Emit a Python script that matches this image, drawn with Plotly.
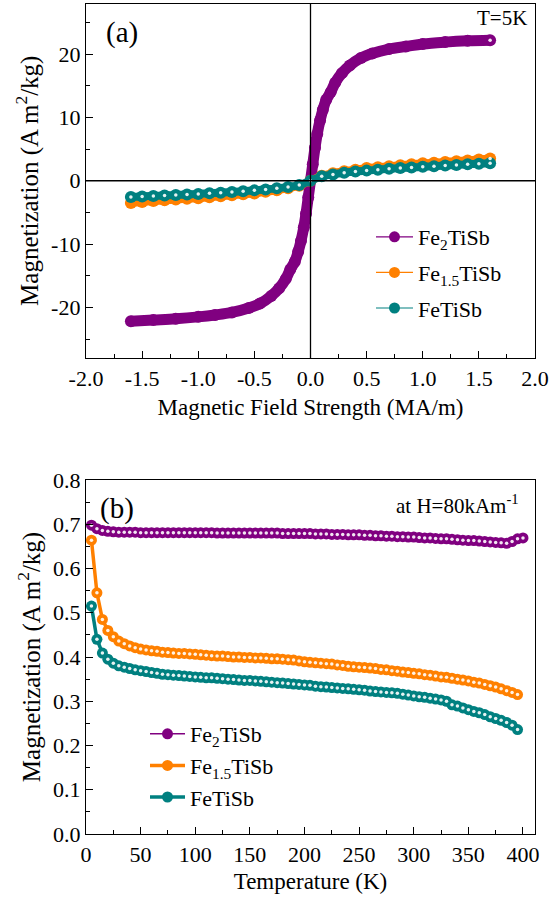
import plotly.graph_objects as go

# ---------------- Panel (a): M(H) at T = 5 K ----------------
H_fe2 = [-1.6, -1.4, -1.2, -1.0, -0.85, -0.7, -0.55, -0.45, -0.35, -0.28, -0.22, -0.18,
         -0.14, -0.11, -0.085, -0.06, -0.04, -0.02, 0.0, 0.02, 0.04, 0.06, 0.085, 0.11,
         0.14, 0.18, 0.22, 0.28, 0.35, 0.45, 0.55, 0.7, 0.85, 1.0, 1.2, 1.4, 1.6]
M_fe2 = [-22.2, -22.0, -21.8, -21.5, -21.2, -20.8, -20.1, -19.4, -18.2, -17.0, -15.5, -14.0,
         -12.8, -11.2, -9.5, -7.4, -5.2, -2.6, 0.0, 2.6, 5.2, 7.4, 9.5, 11.2,
         12.8, 14.0, 15.5, 17.0, 18.2, 19.4, 20.1, 20.8, 21.2, 21.6, 21.9, 22.1, 22.2]

H_fe = [-1.6, -1.5, -1.4, -1.3, -1.2, -1.1, -1.0, -0.9, -0.8, -0.7, -0.6, -0.5, -0.4,
        -0.3, -0.2, -0.1, 0.0, 0.1, 0.2, 0.3, 0.4, 0.5, 0.6, 0.7, 0.8, 0.9, 1.0, 1.1,
        1.2, 1.3, 1.4, 1.5, 1.6]
M_fe15 = [-3.5, -3.35, -3.2, -3.1, -2.95, -2.85, -2.75, -2.6, -2.45, -2.3, -2.15, -2.0, -1.75,
          -1.5, -1.2, -0.8, 0.0, 0.8, 1.2, 1.5, 1.75, 2.0, 2.15, 2.3, 2.45, 2.6, 2.75, 2.85,
          2.95, 3.1, 3.2, 3.35, 3.5]
M_fe1 = [-2.55, -2.48, -2.4, -2.32, -2.24, -2.16, -2.08, -1.98, -1.88, -1.77, -1.65, -1.52, -1.38,
         -1.2, -0.97, -0.68, 0.0, 0.7, 1.0, 1.25, 1.45, 1.6, 1.75, 1.88, 2.0, 2.1, 2.2, 2.3,
         2.4, 2.5, 2.6, 2.68, 2.75]

# ---------------- Panel (b): M(T) at H = 80 kA/m ----------------
T_list = [5, 10, 15, 20, 25, 30, 35, 40, 45, 50, 55, 60, 65, 70, 75, 80, 85, 90, 95, 100,
          105, 110, 115, 120, 125, 130, 135, 140, 145, 150, 155, 160, 165, 170, 175, 180, 185, 190, 195, 200,
          205, 210, 215, 220, 225, 230, 235, 240, 245, 250, 255, 260, 265, 270, 275, 280, 285, 290, 295, 300,
          305, 310, 315, 320, 325, 330, 335, 340, 345, 350, 355, 360, 365, 370, 375, 380, 385, 390, 395]
T_fe2 = T_list + [400]

MT_fe2 = [0.698, 0.690, 0.686, 0.684, 0.683, 0.682, 0.682, 0.682, 0.682, 0.681, 0.681, 0.681, 0.681, 0.681, 0.681, 0.681, 0.681, 0.681, 0.681, 0.681,
          0.681, 0.681, 0.681, 0.680, 0.680, 0.680, 0.680, 0.680, 0.680, 0.680, 0.680, 0.680, 0.680, 0.680, 0.680, 0.679, 0.679, 0.679, 0.679, 0.679,
          0.679, 0.678, 0.678, 0.678, 0.677, 0.677, 0.677, 0.676, 0.676, 0.676, 0.675, 0.675, 0.674, 0.674, 0.673, 0.673, 0.672, 0.672, 0.671, 0.671,
          0.670, 0.669, 0.669, 0.668, 0.667, 0.667, 0.666, 0.665, 0.664, 0.663, 0.663, 0.662, 0.661, 0.660, 0.659, 0.658, 0.657, 0.661, 0.667, 0.669]

MT_fe15 = [0.664, 0.545, 0.485, 0.460, 0.446, 0.436, 0.430, 0.425, 0.421, 0.418, 0.416, 0.414, 0.413, 0.411, 0.410, 0.409, 0.408, 0.408, 0.407, 0.406,
           0.405, 0.404, 0.403, 0.402, 0.402, 0.401, 0.400, 0.400, 0.399, 0.399, 0.398, 0.398, 0.397, 0.396, 0.396, 0.395, 0.394, 0.393, 0.391, 0.389,
           0.388, 0.387, 0.386, 0.385, 0.384, 0.382, 0.381, 0.379, 0.378, 0.377, 0.376, 0.375, 0.374, 0.372, 0.371, 0.369, 0.368, 0.366, 0.365, 0.363,
           0.362, 0.360, 0.359, 0.357, 0.355, 0.354, 0.352, 0.350, 0.348, 0.346, 0.343, 0.341, 0.338, 0.335, 0.332, 0.328, 0.324, 0.320, 0.315]

MT_fe1 = [0.515, 0.440, 0.409, 0.395, 0.386, 0.380, 0.377, 0.374, 0.371, 0.369, 0.367, 0.365, 0.363, 0.361, 0.360, 0.359, 0.358, 0.357, 0.356, 0.355,
          0.354, 0.353, 0.353, 0.352, 0.351, 0.350, 0.349, 0.348, 0.347, 0.347, 0.346, 0.345, 0.344, 0.343, 0.342, 0.341, 0.340, 0.339, 0.338, 0.337,
          0.336, 0.334, 0.333, 0.332, 0.331, 0.330, 0.329, 0.328, 0.327, 0.326, 0.325, 0.323, 0.322, 0.321, 0.320, 0.319, 0.318, 0.316, 0.314, 0.312,
          0.310, 0.309, 0.307, 0.305, 0.303, 0.300, 0.292, 0.289, 0.285, 0.281, 0.277, 0.274, 0.270, 0.265, 0.261, 0.257, 0.252, 0.246, 0.236]

names = ["Fe<sub>2</sub>TiSb", "Fe<sub>1.5</sub>TiSb", "FeTiSb"]
colors = ["#800080", "#FF8000", "#008080"]

xa_vals = [-2.0, -1.5, -1.0, -0.5, 0.0, 0.5, 1.0, 1.5, 2.0]
xa_text = ["-2.0", "-1.5", "-1.0", "-0.5", "0.0", "0.5", "1.0", "1.5", "2.0"]
ya_vals = [-20, -10, 0, 10, 20]
ya_text = ["-20", "-10", "0", "10", "20"]

FONT = "Liberation Serif"
FS_TICK = 22
FS_TITLE = 23
FS_YTITLE = 25
FS_LEG = 22

fig = go.Figure()

# panel (a) data bands
top_series = [(H_fe2, M_fe2), (H_fe, M_fe15), (H_fe, M_fe1)]
for (hx, my), c, w in zip(top_series, colors, [11, 8, 8]):
    fig.add_trace(go.Scatter(x=hx, y=my, mode="lines+markers",
                             line=dict(color=c, width=w, shape="spline"),
                             marker=dict(size=12, color=c, line=dict(width=0)),
                             showlegend=False, hoverinfo="skip", xaxis="x", yaxis="y"))
# highlights
fig.add_trace(go.Scatter(x=H_fe, y=M_fe1, mode="markers",
                         marker=dict(size=3.5, color="white", line=dict(width=0)), opacity=0.9,
                         showlegend=False, hoverinfo="skip", xaxis="x", yaxis="y"))
fig.add_trace(go.Scatter(x=[H_fe2[-1], H_fe[-1]], y=[M_fe2[-1], M_fe15[-1]], mode="markers",
                         marker=dict(size=3.5, color="white", line=dict(width=0)), opacity=0.9,
                         showlegend=False, hoverinfo="skip", xaxis="x", yaxis="y"))
# legend (a) entries
for n, c in zip(names, colors):
    fig.add_trace(go.Scatter(x=[None], y=[None], mode="lines+markers", name=n,
                             line=dict(color=c, width=1.2),
                             marker=dict(size=11, color=c, line=dict(width=0)),
                             legend="legend", legendgroup=n, xaxis="x", yaxis="y"))

# panel (b)
bot_series = [(T_fe2, MT_fe2), (T_list, MT_fe15), (T_list, MT_fe1)]
for (tx, my), n, c, w in zip(bot_series, names, colors, [1.5, 3.5, 3.5]):
    fig.add_trace(go.Scatter(x=tx, y=my, mode="lines+markers", name=n,
                             line=dict(color=c, width=w),
                             marker=dict(size=11, color=c, line=dict(width=0)),
                             legend="legend2", legendgroup=n + "b", hoverinfo="skip",
                             xaxis="x2", yaxis="y2"))
    fig.add_trace(go.Scatter(x=tx, y=my, mode="markers",
                             marker=dict(size=3.5, color="white", line=dict(width=0)), opacity=0.9,
                             showlegend=False, hoverinfo="skip", xaxis="x2", yaxis="y2"))

axis_common = dict(showline=True, linecolor="black", linewidth=1.3, mirror=True,
                   ticks="inside", ticklen=7, tickwidth=1.2, tickcolor="black",
                   showgrid=False, zeroline=False, automargin=False,
                   tickfont=dict(family=FONT, size=FS_TICK, color="black"))

xdom = [86 / 552, 535 / 552]
fig.update_layout(
    width=552, height=902,
    margin=dict(l=0, r=0, t=0, b=0, autoexpand=False),
    paper_bgcolor="white", plot_bgcolor="white",
    font=dict(family=FONT, size=FS_TICK, color="black"),
    xaxis=dict(axis_common, domain=xdom, range=[-2.0, 2.0], tickmode="array",
               tickvals=xa_vals, ticktext=xa_text,
               minor=dict(tickmode="linear", tick0=0, dtick=0.25, ticks="inside", ticklen=4, tickcolor="black"),
               title=dict(text="Magnetic Field Strength (MA/m)", font=dict(family=FONT, size=FS_TITLE), standoff=9),
               anchor="y"),
    yaxis=dict(axis_common, domain=[(902 - 358) / 902, (902 - 3.5) / 902], range=[-28, 28],
               tickmode="array", tickvals=ya_vals, ticktext=ya_text,
               minor=dict(tickmode="linear", tick0=0, dtick=5, ticks="inside", ticklen=4, tickcolor="black"),
               title=dict(text="Magnetization (A m<sup>2</sup>/kg)", font=dict(family=FONT, size=FS_YTITLE), standoff=5),
               anchor="x"),
    xaxis2=dict(axis_common, domain=xdom, range=[0, 411], tickmode="linear", tick0=0, dtick=50,
                minor=dict(tickmode="linear", tick0=0, dtick=25, ticks="inside", ticklen=4, tickcolor="black"),
                title=dict(text="Temperature (K)", font=dict(family=FONT, size=FS_TITLE), standoff=7),
                anchor="y2"),
    yaxis2=dict(axis_common, domain=[(902 - 834) / 902, (902 - 480) / 902], range=[0, 0.8],
                tickmode="linear", tick0=0, dtick=0.1, tickformat=".1f",
                minor=dict(tickmode="linear", tick0=0, dtick=0.05, ticks="inside", ticklen=4, tickcolor="black"),
                title=dict(text="Magnetization (A m<sup>2</sup>/kg)", font=dict(family=FONT, size=FS_YTITLE), standoff=5),
                anchor="x2"),
    legend=dict(x=371 / 552, y=(902 - 216) / 902, xanchor="left", yanchor="top",
                bgcolor="rgba(0,0,0,0)", font=dict(family=FONT, size=FS_LEG), tracegroupgap=4,
                traceorder="grouped", itemwidth=37),
    legend2=dict(x=145 / 552, y=(902 - 713) / 902, xanchor="left", yanchor="top",
                 bgcolor="rgba(0,0,0,0)", font=dict(family=FONT, size=FS_LEG), tracegroupgap=0,
                 traceorder="grouped", itemwidth=35),
    showlegend=True,
)

# crosshair lines through origin of panel (a), drawn above data
fig.add_shape(type="line", xref="x", yref="y domain", x0=0, x1=0, y0=0, y1=1,
              line=dict(color="black", width=1.3), layer="above")
fig.add_shape(type="line", xref="x domain", yref="y", x0=0, x1=1, y0=0, y1=0,
              line=dict(color="black", width=1.3), layer="above")

fig.add_annotation(text="(a)", xref="paper", yref="paper", x=104 / 552, y=(902 - 32) / 902,
                   xanchor="left", yanchor="middle", showarrow=False, font=dict(family=FONT, size=29))
fig.add_annotation(text="T=5K", xref="paper", yref="paper", x=529 / 552, y=(902 - 18) / 902,
                   xanchor="right", yanchor="middle", showarrow=False, font=dict(family=FONT, size=21))
fig.add_annotation(text="(b)", xref="paper", yref="paper", x=98 / 552, y=(902 - 508) / 902,
                   xanchor="left", yanchor="middle", showarrow=False, font=dict(family=FONT, size=29))
fig.add_annotation(text="at H=80kAm<sup>-1</sup>", xref="paper", yref="paper", x=521 / 552, y=(902 - 505) / 902,
                   xanchor="right", yanchor="middle", showarrow=False, font=dict(family=FONT, size=21))

fig.write_html("out.html")
